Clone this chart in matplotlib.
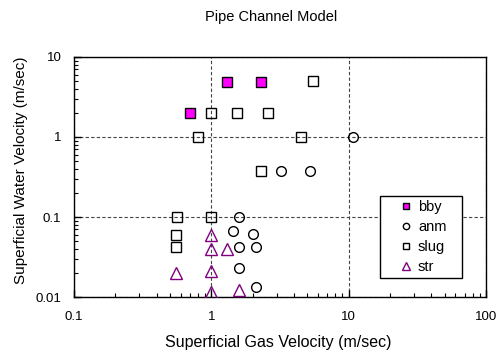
import matplotlib
matplotlib.use("Agg")
import matplotlib.pyplot as plt

plt.rcParams['font.family'] = ['Liberation Sans', 'DejaVu Sans']

# Data
bby_x = [0.7, 1.3, 2.3]
bby_y = [2.0, 4.9, 4.8]

anm_x = [10.7, 3.2, 5.2, 1.6, 1.44, 2.0, 1.6, 2.1, 1.6, 2.1]
anm_y = [1.0, 0.38, 0.38, 0.1, 0.067, 0.062, 0.042, 0.042, 0.023, 0.0135]

slug_x = [1.0, 1.55, 2.6, 5.5, 0.8, 4.5, 2.3, 0.56, 1.0, 0.55, 0.55]
slug_y = [2.0, 2.0, 2.0, 5.0, 1.0, 1.0, 0.38, 0.1, 0.1, 0.059, 0.042]

str_x = [1.0, 1.0, 1.3, 0.55, 1.0, 1.0, 1.6]
str_y = [0.06, 0.04, 0.04, 0.02, 0.021, 0.0114, 0.0123]

x_ticks = [0.1, 1, 10, 100]
x_labels = ["0.1", "1", "10", "100"]
y_ticks = [0.01, 0.1, 1, 10]
y_labels = ["0.01", "0.1", "1", "10"]

fig = plt.figure(figsize=(5.03, 3.54), dpi=100)
ax = fig.add_axes([0.147, 0.161, 0.819, 0.678])

ax.set_xscale('log')
ax.set_yscale('log')
ax.set_xlim(0.1, 100)
ax.set_ylim(0.01, 10)

ms = 7
ax.plot(bby_x, bby_y, linestyle='none', marker='s', markersize=ms,
        markerfacecolor='#FF00FF', markeredgecolor='black', markeredgewidth=1.0,
        label='bby', zorder=3)
ax.plot(anm_x, anm_y, linestyle='none', marker='o', markersize=ms,
        markerfacecolor='none', markeredgecolor='black', markeredgewidth=1.0,
        label='anm', zorder=3)
ax.plot(slug_x, slug_y, linestyle='none', marker='s', markersize=ms,
        markerfacecolor='none', markeredgecolor='black', markeredgewidth=1.0,
        label='slug', zorder=3)
ax.plot(str_x, str_y, linestyle='none', marker='^', markersize=ms + 1,
        markerfacecolor='none', markeredgecolor='#800080', markeredgewidth=1.0,
        label='str', zorder=3)

ax.set_xticks(x_ticks)
ax.set_xticklabels(x_labels)
ax.set_yticks(y_ticks)
ax.set_yticklabels(y_labels)
ax.tick_params(which='both', direction='in', top=False, right=False,
               labelsize=9.5, colors='black')
ax.tick_params(which='major', length=5, width=1)
ax.tick_params(which='minor', length=3, width=0.8)
ax.tick_params(axis='x', pad=10)
ax.tick_params(axis='y', pad=9)

ax.grid(True, which='major', linestyle=(0, (3, 2)), color='#444444', linewidth=0.8)
for s in ax.spines.values():
    s.set_linewidth(1.0)
    s.set_color('black')

ax.set_xlabel('Superficial Gas Velocity (m/sec)', fontsize=11.5)
ax.set_ylabel('Superficial Water Velocity (m/sec)', fontsize=11)
ax.xaxis.set_label_coords(0.496, -0.16)
ax.yaxis.set_label_coords(-0.112, 0.53)
fig.text(0.54, 0.951, 'Pipe Channel Model', ha='center', va='center', fontsize=10.5)

leg = ax.legend(loc='upper left', bbox_to_anchor=(0.743, 0.071, 0.199, 0.35),
                mode='expand', fancybox=False,
                edgecolor='black', framealpha=1, fontsize=10.5, markerscale=0.65,
                handlelength=2.9, handletextpad=-0.6, borderpad=0.3,
                labelspacing=0.4, borderaxespad=0)
leg.get_frame().set_linewidth(1.0)

fig.savefig('out.png', dpi=100)
